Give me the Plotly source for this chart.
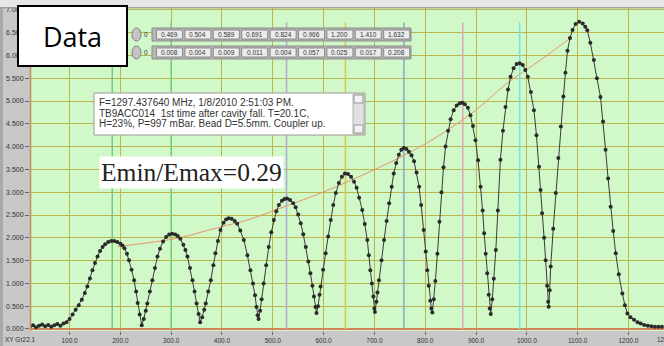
import plotly.graph_objects as go

# ---------------- data ----------------
field_x = [22, 28, 34, 40, 46, 52, 58, 64, 70, 76, 82, 88, 94,
           100, 106, 112, 118, 124, 130, 135, 140, 145, 150, 155, 160, 165, 170, 176, 182, 188, 194, 200, 204, 208, 213, 217, 222, 227, 231, 234, 238, 242,
           246, 250, 253, 258, 263, 268, 273, 278, 284, 290, 296, 302, 308, 313, 318, 324, 328, 332, 337, 342, 346, 350, 354, 357,
           361, 365, 368, 373, 378, 383, 387, 392, 397, 403, 408, 413, 419, 425, 430, 436, 443, 450, 456, 461, 465, 468, 470, 472,
           475, 478, 482, 487, 492, 497, 502, 507, 512, 518, 523, 528, 534, 540, 545, 550, 555, 560, 565, 570, 574, 578, 581, 584, 586,
           589, 592, 594, 599, 604, 609, 614, 619, 624, 630, 636, 642, 648, 654, 660, 665, 670, 676, 681, 686, 689, 692, 695, 698, 700, 701,
           704, 706, 709, 714, 719, 724, 729, 734, 738, 743, 748, 753, 758, 763, 768, 773, 778, 783, 788, 792, 797, 801, 804, 807, 810, 812, 814,
           817, 820, 824, 828, 832, 836, 840, 845, 850, 856, 862, 868, 873, 878, 884, 889, 894, 899, 904, 909, 913, 916, 919, 922, 925, 927, 929,
           932, 935, 939, 943, 948, 953, 958, 963, 968, 974, 980, 986, 992, 997, 1002, 1008, 1014, 1019, 1024, 1027, 1030, 1034, 1037, 1040, 1042, 1043,
           1045, 1047, 1052, 1057, 1062, 1067, 1072, 1076, 1080, 1085, 1090, 1096, 1103, 1110, 1115, 1119, 1125, 1132, 1138, 1145, 1150, 1155, 1160, 1165,
           1170, 1175, 1181, 1188, 1193, 1198, 1204, 1211, 1218, 1224, 1231, 1238, 1245, 1252, 1259, 1266]
field_y = [0.05, 0.08, 0.04, 0.07, 0.10, 0.06, 0.09, 0.05, 0.08, 0.11, 0.07, 0.12, 0.15,
           0.22, 0.32, 0.42, 0.52, 0.64, 0.79, 0.93, 1.11, 1.29, 1.45, 1.59, 1.71, 1.80, 1.86, 1.91, 1.93, 1.93, 1.91, 1.87, 1.83, 1.77, 1.65, 1.51, 1.30, 1.07, 0.82, 0.57, 0.32, 0.08,
           0.22, 0.40, 0.56, 0.82, 1.07, 1.34, 1.59, 1.76, 1.92, 2.02, 2.07, 2.09, 2.07, 2.04, 1.98, 1.85, 1.73, 1.59, 1.34, 1.07, 0.82, 0.56, 0.33, 0.15,
           0.26, 0.42, 0.56, 0.82, 1.07, 1.40, 1.66, 1.93, 2.17, 2.33, 2.40, 2.43, 2.42, 2.37, 2.31, 2.16, 1.95, 1.62, 1.29, 1.00, 0.74, 0.48, 0.30, 0.22,
           0.40, 0.65, 1.00, 1.40, 1.80, 2.12, 2.39, 2.58, 2.72, 2.81, 2.85, 2.86, 2.83, 2.76, 2.67, 2.51, 2.32, 2.08, 1.80, 1.48, 1.22, 0.95, 0.71, 0.48, 0.35,
           0.50, 0.75, 0.93, 1.30, 1.66, 2.03, 2.39, 2.72, 2.98, 3.20, 3.34, 3.41, 3.40, 3.34, 3.23, 3.10, 2.88, 2.61, 2.30, 1.95, 1.62, 1.29, 1.00, 0.71, 0.45, 0.37,
           0.60, 0.80, 1.07, 1.51, 1.95, 2.37, 2.76, 3.12, 3.41, 3.64, 3.82, 3.93, 3.97, 3.95, 3.89, 3.81, 3.68, 3.43, 3.12, 2.72, 2.17, 1.70, 1.29, 0.95, 0.62, 0.45, 0.36,
           0.65, 1.05, 1.65, 2.35, 3.00, 3.55, 4.00, 4.35, 4.60, 4.80, 4.90, 4.95, 4.96, 4.93, 4.85, 4.69, 4.45, 4.14, 3.70, 3.12, 2.60, 2.10, 1.65, 1.22, 0.75, 0.45, 0.33,
           0.65, 1.10, 1.73, 2.60, 3.71, 4.35, 4.87, 5.25, 5.53, 5.72, 5.81, 5.83, 5.79, 5.68, 5.53, 5.20, 4.80, 4.25, 3.56, 3.05, 2.54, 2.00, 1.51, 0.95, 0.60, 0.49,
           0.85, 1.37, 2.20, 2.98, 3.75, 4.44, 5.10, 5.62, 6.10, 6.38, 6.56, 6.69, 6.74, 6.70, 6.63, 6.55, 6.28, 5.90, 5.50, 5.09, 4.55, 3.93, 3.30, 2.68,
           2.15, 1.66, 1.20, 0.78, 0.52, 0.34, 0.26, 0.20, 0.15, 0.12, 0.09, 0.07, 0.06, 0.05, 0.05, 0.05]
assert len(field_x) == len(field_y)

fit_x = [195, 253, 312, 384, 456, 522, 601, 699, 797, 896, 961, 1027, 1083]
fit_y = [1.81, 1.89, 1.99, 2.20, 2.41, 2.68, 3.01, 3.49, 4.04, 4.77, 5.39, 5.90, 6.36]

cursor_x = [184, 300, 527, 643, 758, 874, 986]

amp_values = ["0.469", "0.504", "0.589", "0.691", "0.824", "0.966", "1.200", "1.410", "1.632"]
err_values = ["0.008", "0.004", "0.009", "0.011", "0.004", "0.057", "0.025", "0.017", "0.208"]

note_lines = ["F=1297.437640 MHz, 1/8/2010 2:51:03 PM.",
              "TB9ACC014  1st time after cavity fall. T=20.1C,",
              "H=23%, P=997 mBar. Bead D=5.5mm. Coupler up."]
ratio_text = "Emin/Emax=0.29"
box_title = "Data"
graph_name = "XY Gr22.1"
cut_label = "12"

x_ticks = [100, 200, 300, 400, 500, 600, 700, 800, 900, 1000, 1100, 1200]
y_ticks = [0, 0.5, 1, 1.5, 2, 2.5, 3, 3.5, 4, 4.5, 5, 5.5, 6, 6.5, 7]
x_min, x_max = 22.1, 1270.0

# ---------------- styles / layout ----------------
W, H = 664, 346
L, R, T, B = 30, 0, 8, 15
PW, PH = W - L - R, H - T - B
cursor_colors = ["#6fd06f", "#6fcf6f", "#b0a8d8", "#d8c850", "#8aa6c8", "#dca8b8", "#70e4ee"]
GRID = "#bab64c"


def px(x):
    return (x - L) / PW


def py(y):
    return (H - B - y) / PH


fig = go.Figure()
fig.add_trace(go.Scatter(x=fit_x, y=fit_y, mode="lines",
                         line=dict(color="#e8946a", width=1, shape="spline"), hoverinfo="skip"))
fig.add_trace(go.Scatter(x=field_x, y=field_y, mode="lines+markers",
                         line=dict(color="#3a3a3a", width=1),
                         marker=dict(symbol="circle", size=4, color="#2a2a2a")))

shapes = []
for cx, cc in zip(cursor_x, cursor_colors):
    shapes.append(dict(type="line", xref="x", yref="y", x0=cx, x1=cx, y0=0, y1=6.72,
                       line=dict(color=cc, width=1.5), layer="between"))
shapes.append(dict(type="rect", xref="paper", yref="paper", x0=px(0), x1=px(W), y0=py(0), y1=py(7.5),
                   fillcolor="#e6e6e6", line=dict(width=0), layer="above"))
shapes.append(dict(type="line", xref="paper", yref="paper", x0=px(0), x1=px(W), y0=py(7.8), y1=py(7.8),
                   line=dict(color="#8c8c8c", width=1), layer="above"))
shapes.append(dict(type="line", xref="paper", yref="paper", x0=px(30.5), x1=px(30.5), y0=py(8), y1=py(331),
                   line=dict(color="#c98a62", width=1.5), layer="above"))
shapes.append(dict(type="rect", xref="paper", yref="paper", x0=px(0), x1=px(3), y0=py(8), y1=py(346),
                   fillcolor="#a9a9a9", line=dict(width=0), layer="above"))

for ry in (28, 46):
    shapes.append(dict(type="circle", xref="paper", yref="paper", x0=px(132), x1=px(141), y0=py(ry), y1=py(ry + 13),
                       fillcolor="#c4c4c4", line=dict(color="#808080", width=1), layer="above"))
    shapes.append(dict(type="rect", xref="paper", yref="paper", x0=px(152), x1=px(411), y0=py(ry), y1=py(ry + 13),
                       fillcolor="#b8b8b8", line=dict(color="#8a8a8a", width=1), layer="above"))
    for i in range(9):
        x0 = 156.5 + i * 28.4
        shapes.append(dict(type="rect", xref="paper", yref="paper", x0=px(x0), x1=px(x0 + 26), y0=py(ry + 2), y1=py(ry + 11),
                           fillcolor="#ececec", line=dict(color="#7a7a7a", width=0.8), layer="above"))

shapes.append(dict(type="rect", xref="paper", yref="paper", x0=px(94), x1=px(365), y0=py(93), y1=py(135),
                   fillcolor="#ffffff", line=dict(color="#9a9a9a", width=1), layer="above"))
shapes.append(dict(type="rect", xref="paper", yref="paper", x0=px(353), x1=px(364), y0=py(94), y1=py(134),
                   fillcolor="#e0e0e0", line=dict(color="#b0b0b0", width=1), layer="above"))
for by in (95, 125):
    shapes.append(dict(type="rect", xref="paper", yref="paper", x0=px(354), x1=px(363), y0=py(by), y1=py(by + 8),
                       fillcolor="#f2f2f2", line=dict(color="#999999", width=1), layer="above"))

annotations = []
for ry, vals in ((28, amp_values), (46, err_values)):
    annotations.append(dict(xref="paper", yref="paper", x=px(146), y=py(ry + 6.5), text="0", showarrow=False,
                            xanchor="center", yanchor="middle",
                            font=dict(size=6.5, color="#333", family="Liberation Sans")))
    for i, v in enumerate(vals):
        annotations.append(dict(xref="paper", yref="paper", x=px(156.5 + i * 28.4 + 13), y=py(ry + 6.5), text=v,
                                showarrow=False, xanchor="center", yanchor="middle",
                                font=dict(size=6.5, color="#333", family="Liberation Sans")))
for k, line in enumerate(note_lines):
    annotations.append(dict(xref="paper", yref="paper", x=px(97), y=py(103 + 10 * k), text=line, showarrow=False,
                            xanchor="left", yanchor="middle",
                            font=dict(size=10, color="#333", family="Liberation Sans")))
annotations.append(dict(xref="paper", yref="paper", x=px(99), y=py(172), text=ratio_text, showarrow=False,
                        xanchor="left", yanchor="middle", bgcolor="#ffffff", borderpad=1,
                        font=dict(size=25.5, color="#222", family="Liberation Serif")))
annotations.append(dict(xref="paper", yref="paper", x=px(72.5), y=py(36), text=box_title, showarrow=False,
                        xanchor="center", yanchor="middle", width=107, height=58,
                        bgcolor="#ffffff", bordercolor="#000000", borderwidth=2, borderpad=0,
                        font=dict(size=27, color="#000", family="Open Sans")))
annotations.append(dict(xref="paper", yref="paper", x=px(3), y=py(339), text=graph_name, showarrow=False,
                        xanchor="left", yanchor="middle",
                        font=dict(size=6.5, color="#333", family="Liberation Sans")))
annotations.append(dict(xref="paper", yref="paper", x=px(655), y=py(339), text=cut_label, showarrow=False,
                        xanchor="left", yanchor="middle",
                        font=dict(size=6.5, color="#333", family="Liberation Sans")))

fig.update_layout(
    width=W, height=H, margin=dict(l=L, r=R, t=T, b=B, autoexpand=False),
    paper_bgcolor="#c8c8c8", plot_bgcolor="#d0f8c8", showlegend=False,
    shapes=shapes, annotations=annotations,
    xaxis=dict(range=[x_min, x_max], tickvals=x_ticks, tickformat=".1f",
               tickfont=dict(size=6.5, color="#333", family="Liberation Sans"),
               ticks="outside", ticklen=3, tickcolor="#666",
               showgrid=True, gridcolor=GRID, gridwidth=1.2, zeroline=False, showline=False),
    yaxis=dict(range=[-0.044, 7.04], tickvals=y_ticks, tickformat=".3f",
               tickfont=dict(size=7, color="#333", family="Liberation Sans"),
               ticks="outside", ticklen=4, tickcolor="#666",
               showgrid=True, gridcolor=GRID, gridwidth=1.2,
               zeroline=True, zerolinecolor="#d4835c", zerolinewidth=1.5, showline=False),
)

fig.write_html("out.html")
